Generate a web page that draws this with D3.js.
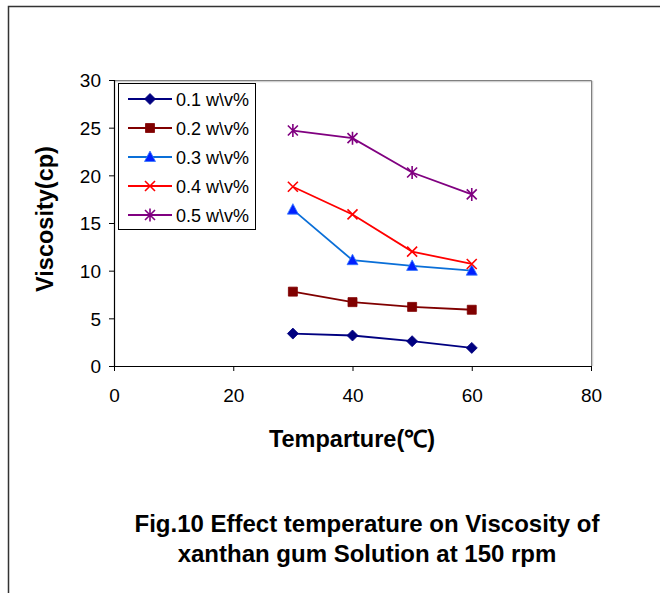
<!DOCTYPE html>
<html>
<head>
<meta charset="utf-8">
<script src="https://cdn.jsdelivr.net/npm/d3@7"></script>
<style>
  html, body { margin: 0; padding: 0; background: #fff; }
  svg { display: block; font-family: "Liberation Sans", Arial, sans-serif; }
</style>
</head>
<body>
<svg id="chart" width="660" height="593"></svg>
<script>
// Temperature (°C) at which viscosity was measured
const temperatures = [30, 40, 50, 60];

// Viscosity (cp) for each xanthan gum concentration
const visc01 = [3.4, 3.2, 2.6, 1.9];
const visc02 = [7.8, 6.7, 6.2, 5.9];
const visc03 = [16.4, 11.1, 10.5, 10.0];
const visc04 = [18.8, 15.9, 12.0, 10.7];
const visc05 = [24.7, 23.9, 20.3, 18.0];

const seriesNames = ["0.1 w\\v%", "0.2 w\\v%", "0.3 w\\v%", "0.4 w\\v%", "0.5 w\\v%"];

const xTicks = [0, 20, 40, 60, 80];
const yTicks = [0, 5, 10, 15, 20, 25, 30];

const xTitle = "Temparture(℃)";
const yTitle = "Viscosity(cp)";
const captionLines = ["Fig.10 Effect temperature on Viscosity of", "xanthan gum Solution at 150 rpm"];

// Styling per series
const styles = [
  { line: "#000080", fill: "#000080", marker: "diamond" },
  { line: "#800000", fill: "#800000", marker: "square" },
  { line: "#0a6fd8", fill: "#0020ff", marker: "triangle" },
  { line: "#ff0000", fill: "#ff0000", marker: "cross" },
  { line: "#800080", fill: "#800080", marker: "star" }
];

const seriesValues = [visc01, visc02, visc03, visc04, visc05];
const series = seriesNames.map((name, i) => ({
  name,
  style: styles[i],
  points: temperatures.map((t, j) => ({ t, v: seriesValues[i][j] }))
}));

const svg = d3.select("#chart");

// Document frame around the figure (left and top edges)
svg.append("path")
  .attr("d", "M8.5,593 L8.5,6.5 L660,6.5")
  .attr("fill", "none")
  .attr("stroke", "#333")
  .attr("stroke-width", 1.5);

const plot = { left: 114, right: 591, top: 80, bottom: 366 };

const x = d3.scaleLinear().domain([0, 80]).range([plot.left, plot.right]);
const y = d3.scaleLinear().domain([0, 30]).range([plot.bottom, plot.top]);

// Plot-area border (top and right) with a soft shadow
svg.append("path")
  .attr("d", `M${plot.left},${plot.top + 1.5} L${plot.right + 1.5},${plot.top + 1.5} L${plot.right + 1.5},${plot.bottom}`)
  .attr("fill", "none").attr("stroke", "#d0d0d0").attr("stroke-width", 1.5);
svg.append("path")
  .attr("d", `M${plot.left},${plot.top + 0.5} L${plot.right + 0.5},${plot.top + 0.5} L${plot.right + 0.5},${plot.bottom}`)
  .attr("fill", "none").attr("stroke", "#808080").attr("stroke-width", 1);

// Axes
const yAxis = d3.axisLeft(y).tickValues(yTicks).tickSize(5).tickPadding(8).tickFormat(d3.format("d"));
const xAxis = d3.axisBottom(x).tickValues(xTicks).tickSize(5).tickPadding(18).tickFormat(d3.format("d"));

const gy = svg.append("g").attr("transform", `translate(${plot.left},0)`).call(yAxis);
const gx = svg.append("g").attr("transform", `translate(0,${plot.bottom})`).call(xAxis);

[gx, gy].forEach(g => {
  g.select(".domain").attr("stroke", "#000").attr("stroke-width", 1.2);
  g.selectAll(".tick line").attr("stroke", "#000");
  g.selectAll(".tick text")
    .attr("font-size", 19)
    .attr("fill", "#000")
    .attr("font-family", "'Liberation Sans', Arial, sans-serif");
});
gy.selectAll(".tick text").attr("dy", "0.36em");
gy.select(".domain").attr("d", `M-5,${plot.top}.5H0.5V${plot.bottom}.5H-5`);
gx.select(".domain").attr("d", `M${plot.left},0.5H${plot.right}.5`);

// Axis titles
svg.append("text")
  .attr("x", 352).attr("y", 447)
  .attr("text-anchor", "middle")
  .attr("font-size", 23.5).attr("font-weight", "bold")
  .text(xTitle);

svg.append("text")
  .attr("transform", "translate(53,219) rotate(-90)")
  .attr("text-anchor", "middle")
  .attr("font-size", 23.5).attr("font-weight", "bold")
  .text(yTitle);

// Marker shapes
function markerPath(kind) {
  switch (kind) {
    case "diamond": return "M0,-5.5L5.5,0L0,5.5L-5.5,0Z";
    case "square": return "M-4.5,-4.5H4.5V4.5H-4.5Z";
    case "triangle": return "M0,-6L5.5,4.5H-5.5Z";
    case "cross": return "M-5,-5L5,5M5,-5L-5,5";
    case "star": return "M-5,-5L5,5M5,-5L-5,5M0,-6.5V6.5";
  }
}
function drawMarker(g, style, cx, cy) {
  const isStroke = style.marker === "cross" || style.marker === "star";
  const p = g.append("path")
    .attr("transform", `translate(${cx},${cy})`)
    .attr("d", markerPath(style.marker));
  if (isStroke) {
    p.attr("fill", "none").attr("stroke", style.fill).attr("stroke-width", 1.6);
  } else {
    p.attr("fill", style.fill)
      .attr("stroke", style.marker === "triangle" ? "#3377ff" : style.fill)
      .attr("stroke-width", 0.8);
  }
}

// Series lines and markers
const line = d3.line().x(d => x(d.t)).y(d => y(d.v));
const gSeries = svg.append("g");
series.forEach(s => {
  gSeries.append("path")
    .datum(s.points)
    .attr("fill", "none")
    .attr("stroke", s.style.line)
    .attr("stroke-width", 1.8)
    .attr("d", line);
  s.points.forEach(p => drawMarker(gSeries, s.style, x(p.t), y(p.v)));
});

// Legend
const legend = { x: 118, y: 83, w: 137, h: 146 };
const gLeg = svg.append("g");
gLeg.append("rect")
  .attr("x", legend.x + 0.5).attr("y", legend.y + 0.5)
  .attr("width", legend.w).attr("height", legend.h)
  .attr("fill", "#fff").attr("stroke", "#000").attr("stroke-width", 1);

series.forEach((s, i) => {
  const cy = 99 + i * 29;
  gLeg.append("line")
    .attr("x1", 128).attr("x2", 172).attr("y1", cy).attr("y2", cy)
    .attr("stroke", s.style.line).attr("stroke-width", 1.8);
  drawMarker(gLeg, s.style, 150, cy);
  gLeg.append("text")
    .attr("x", 176).attr("y", cy + 6.5)
    .attr("font-size", 18)
    .text(s.name);
});

// Figure caption
captionLines.forEach((txt, i) => {
  svg.append("text")
    .attr("x", 367).attr("y", 532 + i * 30)
    .attr("text-anchor", "middle")
    .attr("font-size", 24).attr("font-weight", "bold")
    .text(txt);
});
</script>
</body>
</html>
